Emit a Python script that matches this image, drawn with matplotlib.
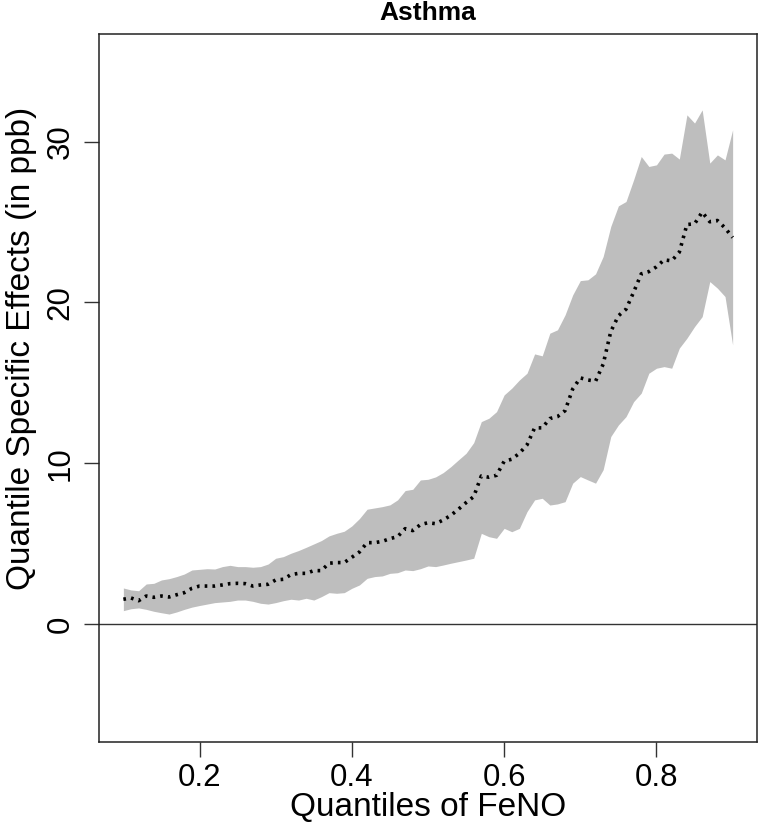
import numpy as np
import matplotlib
matplotlib.use('Agg')
import matplotlib.pyplot as plt

plt.rcParams['font.family'] = ['Liberation Sans', 'DejaVu Sans']
plt.rcParams['lines.scale_dashes'] = False

# quantile grid 0.10 .. 0.90 (81 points)
quantiles = np.round(np.arange(10, 91) / 100.0, 2)

effect = [1.54, 1.62, 1.45, 1.74, 1.66, 1.74, 1.68, 1.82, 1.95, 2.22,
          2.36, 2.36, 2.36, 2.43, 2.51, 2.53, 2.51, 2.36, 2.43, 2.47,
          2.74, 2.78, 3.07, 3.15, 3.15, 3.32, 3.32, 3.78, 3.82, 3.82,
          4.15, 4.48, 5.06, 5.06, 5.14, 5.31, 5.43, 5.93, 5.81, 6.18,
          6.30, 6.24, 6.47, 6.76, 7.14, 7.55, 7.92, 9.21, 9.13, 9.25,
          10.12, 10.25, 10.62, 11.14, 12.20, 12.20, 12.78, 12.90, 13.27, 14.62,
          15.31, 15.18, 15.10, 16.16, 18.19, 19.17, 19.58, 20.64, 21.78, 21.92,
          22.22, 22.65, 22.59, 23.13, 24.85, 24.89, 25.62, 25.02, 25.10, 24.64,
          24.04]

upper = [2.24, 2.12, 2.07, 2.49, 2.53, 2.74, 2.82, 2.95, 3.11, 3.36,
         3.40, 3.44, 3.42, 3.57, 3.65, 3.57, 3.57, 3.53, 3.57, 3.73,
         4.09, 4.19, 4.40, 4.57, 4.77, 4.98, 5.19, 5.48, 5.64, 5.77,
         6.10, 6.56, 7.14, 7.22, 7.30, 7.41, 7.72, 8.30, 8.38, 8.96,
         9.00, 9.15, 9.42, 9.79, 10.21, 10.62, 11.28, 12.59, 12.80, 13.21,
         14.25, 14.67, 15.18, 15.60, 16.80, 16.68, 18.09, 18.30, 19.23, 20.47,
         21.36, 21.41, 21.78, 22.86, 24.73, 26.01, 26.28, 27.63, 29.08, 28.46,
         28.56, 29.23, 29.29, 28.92, 31.67, 31.16, 31.98, 28.67, 29.18, 28.87,
         30.74]

lower = [0.83, 0.95, 1.00, 0.91, 0.79, 0.70, 0.62, 0.75, 0.91, 1.05,
         1.15, 1.24, 1.33, 1.37, 1.41, 1.49, 1.49, 1.41, 1.29, 1.24,
         1.33, 1.45, 1.54, 1.49, 1.60, 1.49, 1.70, 1.95, 1.91, 1.95,
         2.22, 2.43, 2.84, 2.95, 2.99, 3.15, 3.19, 3.36, 3.32, 3.44,
         3.61, 3.57, 3.67, 3.78, 3.88, 3.98, 4.09, 5.64, 5.43, 5.33,
         5.95, 5.74, 5.95, 6.99, 7.72, 7.82, 7.40, 7.47, 7.61, 8.76,
         9.17, 8.96, 8.76, 9.60, 11.66, 12.38, 12.90, 13.83, 14.36, 15.60,
         15.91, 16.01, 15.91, 17.16, 17.78, 18.50, 19.12, 21.30, 20.89, 20.37,
         17.36]

x_ticks = [0.2, 0.4, 0.6, 0.8]
y_ticks = [0, 10, 20, 30]

fig = plt.figure(figsize=(7.6, 8.24), dpi=100)
ax = fig.add_axes([99 / 760, 82 / 824, 658 / 760, 708 / 824])

ax.fill_between(quantiles, lower, upper, color='#BEBEBE', linewidth=0)
ax.plot(quantiles, effect, color='black', linewidth=2.6,
        dashes=(1.9, 3.7), dash_capstyle='butt')
ax.axhline(0, color='#333333', linewidth=1.0)

ax.set_xlim(0.068, 0.932)
ax.set_ylim(-7.34, 36.7)
ax.set_xticks(x_ticks)
ax.set_xticklabels([f'{t:.1f}' for t in x_ticks])
ax.set_yticks(y_ticks)
ax.set_yticklabels([str(t) for t in y_ticks])

ax.tick_params(direction='out', length=10.8, width=1.0, color='#333333',
               labelsize=22.5, pad=4)
ax.tick_params(axis='y', pad=6)
plt.setp(ax.get_yticklabels(), rotation=90, va='center')

for s in ax.spines.values():
    s.set_linewidth(1.1)
    s.set_color('#222222')

fig.text(428 / 760, 1 - 808 / 824, 'Quantiles of FeNO', ha='center', va='center',
         fontsize=24)
fig.text(22 / 760, 1 - 348 / 824, 'Quantile Specific Effects (in ppb)', ha='center',
         va='center', rotation=90, fontsize=24)
fig.text(428 / 760, 1 - 13 / 824, 'Asthma', ha='center', va='center',
         fontsize=19, fontweight='bold')

fig.savefig('out.png', dpi=100)
